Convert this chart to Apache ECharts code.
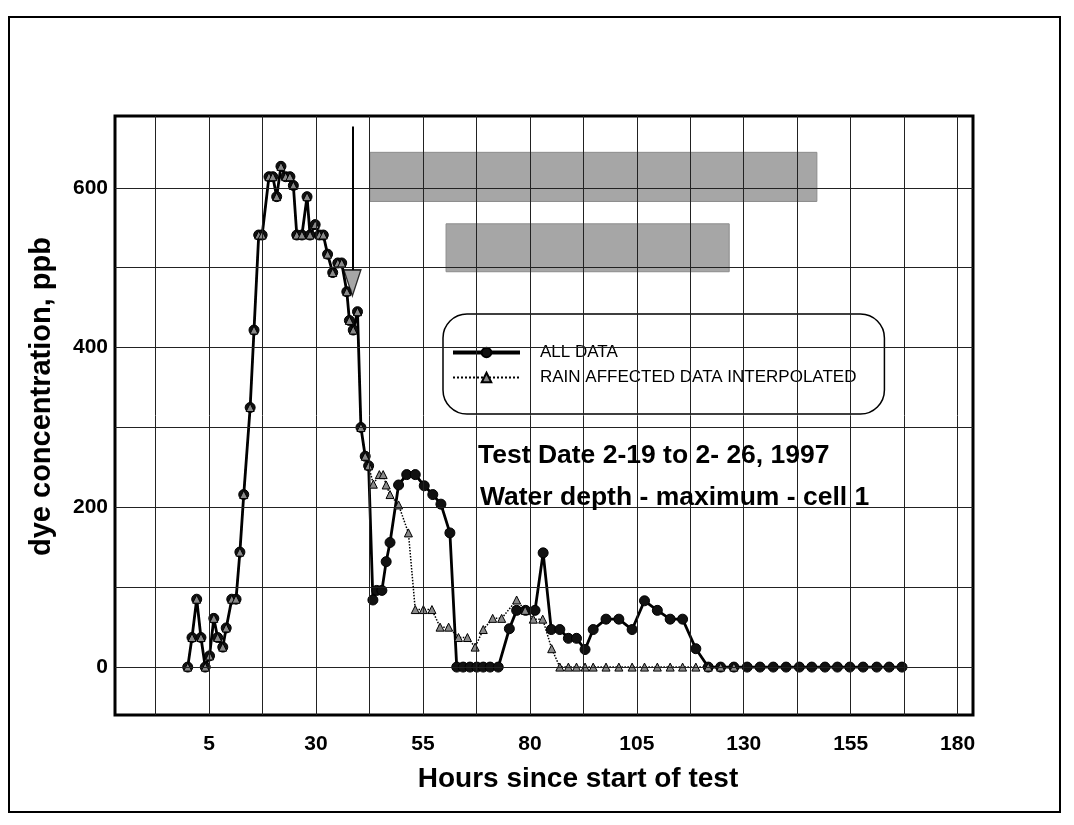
<!doctype html>
<html>
<head>
    <meta charset="utf-8">
    <title>dye concentration</title>
    <script src="https://cdn.jsdelivr.net/npm/echarts/dist/echarts.min.js"></script>
    <style>
        body { margin: 0; background: #fff; }
        #chart { width: 1074px; height: 825px; }
    </style>
</head>
<body>
<div id="chart"></div>
<script>
    // hours since start of test
    var hours = [0, 1, 2.1, 3.1, 4.1, 5.1, 6.1, 7, 8.2, 9, 10.3, 11.3, 12.2, 13.1, 14.6, 15.5, 16.6, 17.4,
        19, 19.9, 20.8, 21.8, 22.9, 23.9, 24.7, 25.5, 26.7, 27.9, 28.6, 29.8, 30.8, 31.7, 32.7, 33.9,
        35.1, 36, 37.2, 37.8, 38.7, 39.7, 40.5, 41.5, 42.3, 43.3, 44.2, 45.4, 46.4, 47.3, 49.3, 51.2,
        53.2, 55.3, 57.3, 59.2, 61.3, 62.9, 64.4, 66, 67.6, 69.1, 70.7, 72.6, 75.2, 76.9, 79, 81.2,
        83.1, 85, 87, 89, 90.9, 92.9, 94.8, 97.8, 100.8, 103.9, 106.8, 109.8, 112.8, 115.7, 118.8,
        121.7, 124.6, 127.7, 130.8, 133.8, 136.9, 139.9, 143, 145.9, 149, 151.9, 154.8, 157.9, 161.1,
        164, 167];
    var allData = [0, 37, 85, 37, 0, 14, 61, 37, 25, 49, 85, 85, 144, 216, 325, 422, 541, 541,
        614, 614, 589, 627, 614, 614, 603, 541, 541, 589, 541, 554, 541, 541, 517, 494,
        506, 506, 470, 434, 422, 445, 300, 264, 252, 84, 96, 96, 132, 156, 228, 241,
        241, 227, 216, 204, 168, 0, 0, 0, 0, 0, 0, 0, 48, 71, 71, 71,
        143, 47, 47, 36, 36, 22, 47, 60, 60, 47, 83, 71, 60, 60, 23,
        0, 0, 0, 0, 0, 0, 0, 0, 0, 0, 0, 0, 0, 0, 0,
        0, 0];

    // rain affected data, interpolated
    var rainHours = [0, 1, 2.1, 3.1, 4.1, 5.1, 6.1, 7, 8.2, 9, 10.3, 11.3, 12.2, 13.1, 14.6, 15.5, 16.6, 17.4,
        19, 19.9, 20.8, 21.8, 22.9, 23.9, 24.7, 25.5, 26.7, 27.9, 28.6, 29.8, 30.8, 31.7, 32.7, 33.9,
        35.1, 36, 37.2, 37.8, 38.7, 39.7, 40.5, 41.5, 42.3, 43.4, 44.8, 45.7, 46.4, 47.3, 49.3, 51.6,
        53.2, 55.1, 57.1, 59, 61, 63.3, 65.4, 67.2, 69.1, 71.3, 73.4, 76.9, 78.9, 80.8, 83, 85.1,
        87, 89, 90.9, 92.9, 94.8, 97.8, 100.8, 103.9, 106.8, 109.8, 112.8, 115.7, 118.8,
        121.7, 124.6, 127.7];
    var rainData = [0, 37, 85, 37, 0, 14, 61, 37, 25, 49, 85, 85, 144, 216, 325, 422, 541, 541,
        614, 614, 589, 627, 614, 614, 603, 541, 541, 589, 541, 554, 541, 541, 517, 494,
        506, 506, 470, 434, 422, 445, 300, 264, 252, 229, 241, 241, 228, 216, 203, 168,
        72, 72, 72, 50, 50, 37, 37, 25, 47, 61, 61, 84, 71, 60, 60, 23,
        0, 0, 0, 0, 0, 0, 0, 0, 0, 0, 0, 0, 0,
        0, 0, 0];

    var xGridLines = [-7.5, 5, 17.5, 30, 42.5, 55, 67.5, 80, 92.5, 105, 117.5, 130, 142.5, 155, 167.5, 180];
    var yGridLines = [0, 100, 200, 300, 400, 500, 600];
    var xTickLabels = [5, 30, 55, 80, 105, 130, 155, 180];
    var yTickLabels = [0, 200, 400, 600];

    // the arrow marker (hours, ppb)
    var arrowX = 38.5, arrowTop = 677, arrowBase = 497, arrowHead = 481;

    function pairs(xs, ys) {
        return xs.map(function (x, i) { return [x, ys[i]]; });
    }

    var font = 'Liberation Sans, Arial, Helvetica, sans-serif';
    var myChart = echarts.init(document.getElementById('chart'));

    var option = {
        backgroundColor: '#fff',
        animation: false,
        grid: {
            left: 115, top: 116, right: 101, bottom: 110,
            show: true, borderColor: '#000', borderWidth: 3, backgroundColor: 'transparent'
        },
        legend: {
            data: [
                { name: 'ALL DATA', lineStyle: { width: 4 } },
                { name: 'RAIN AFFECTED DATA INTERPOLATED', lineStyle: { width: 2 } }
            ],
            orient: 'vertical', left: 443, top: 314,
            padding: [30, 28, 28, 8], itemGap: 8, itemWidth: 67, itemHeight: 12,
            backgroundColor: '#fff', borderColor: '#000', borderWidth: 1.5, borderRadius: 24,
            selectedMode: false,
            textStyle: { fontFamily: font, fontSize: 17, color: '#000', lineHeight: 16, padding: [0, 0, 0, 15] }
        },
        xAxis: {
            type: 'value', min: -17, max: 183.6,
            name: 'Hours since start of test', nameLocation: 'middle', nameGap: 50,
            nameTextStyle: { fontFamily: font, fontSize: 28, fontWeight: 'bold', color: '#000', padding: [0, 0, 0, 68] },
            axisLine: { show: false }, axisTick: { show: false }, splitLine: { show: false },
            axisLabel: {
                customValues: xTickLabels, margin: 19,
                fontFamily: font, fontSize: 21, fontWeight: 'bold', color: '#000'
            }
        },
        yAxis: {
            type: 'value', min: -60, max: 690,
            name: 'dye concentration, ppb', nameLocation: 'middle', nameGap: 59,
            nameTextStyle: { fontFamily: font, fontSize: 29, fontWeight: 'bold', color: '#000', padding: [0, 0, 0, 38] },
            axisLine: { show: false }, axisTick: { show: false }, splitLine: { show: false },
            axisLabel: {
                customValues: yTickLabels, margin: 7,
                fontFamily: font, fontSize: 21, fontWeight: 'bold', color: '#000'
            }
        },
        graphic: [
            { type: 'rect', shape: { x: 9, y: 17, width: 1051, height: 795 },
              style: { fill: 'none', stroke: '#000', lineWidth: 2 }, z: -1 },
            { type: 'text', left: 478, top: 442,
              style: { text: 'Test Date 2-19 to 2- 26, 1997', font: 'bold 26.5px ' + font, fill: '#000' }, z: 10 },
            { type: 'text', left: 480, top: 484,
              style: { text: 'Water depth - maximum - cell 1', font: 'bold 26.5px ' + font, fill: '#000' }, z: 10 }
        ],
        series: [
            {
                name: 'grid', type: 'line', data: [], z: 1, silent: true,
                markLine: {
                    silent: true, symbol: 'none', label: { show: false },
                    lineStyle: { color: '#222', width: 1, type: 'solid' },
                    data: xGridLines.map(function (v) { return { xAxis: v }; })
                        .concat(yGridLines.map(function (v) { return { yAxis: v }; }))
                }
            },
            {
                name: 'boxes', type: 'line', data: [], z: 2, silent: true,
                markArea: {
                    silent: true,
                    itemStyle: { color: '#a6a6a6', borderColor: '#8c8c8c', borderWidth: 1 },
                    data: [
                        [{ coord: [42.6, 644.5] }, { coord: [147.1, 583] }],
                        [{ coord: [60.4, 555] }, { coord: [126.6, 495] }]
                    ]
                }
            },
            {
                name: 'ALL DATA', type: 'line', z: 3,
                data: pairs(hours, allData),
                symbol: 'circle', symbolSize: 10, showAllSymbol: true,
                lineStyle: { color: '#000', width: 2.8 },
                itemStyle: { color: '#111', borderColor: '#000', borderWidth: 1 }
            },
            {
                name: 'RAIN AFFECTED DATA INTERPOLATED', type: 'line', z: 4,
                data: pairs(rainHours, rainData),
                symbol: 'triangle', symbolSize: 8, showAllSymbol: true,
                lineStyle: { color: '#000', width: 1.5, type: 'dotted' },
                itemStyle: { color: '#8a8a8a', borderColor: '#000', borderWidth: 1 }
            },
            {
                name: 'arrow', type: 'scatter', z: 5, silent: true,
                data: [[arrowX, arrowHead]],
                symbol: 'triangle', symbolRotate: 180, symbolSize: [17, 26],
                itemStyle: { color: '#909090', borderColor: '#000', borderWidth: 1.5 },
                markLine: {
                    silent: true, symbol: 'none', label: { show: false },
                    lineStyle: { color: '#000', width: 2, type: 'solid' },
                    data: [[{ coord: [arrowX, arrowTop] }, { coord: [arrowX, arrowBase] }]]
                }
            }
        ]
    };

    myChart.setOption(option);
</script>
</body>
</html>
